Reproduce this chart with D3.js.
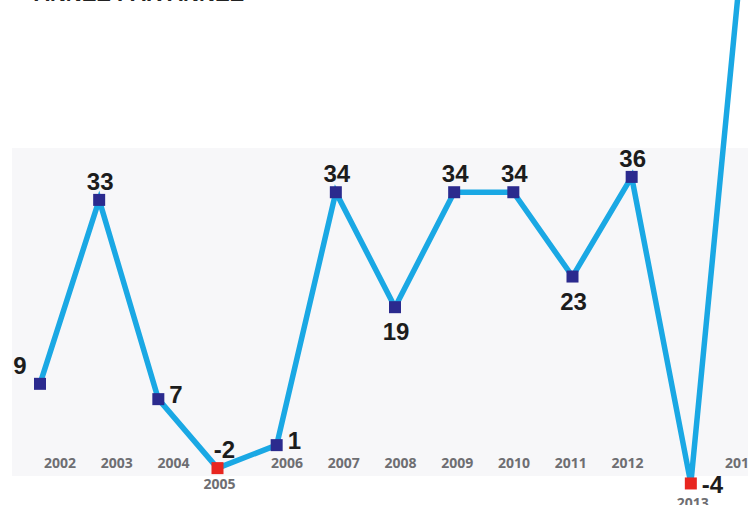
<!DOCTYPE html>
<html>
<head>
	<meta charset="UTF-8">
	<title>Courbe annuelle</title>
	<script src="https://d3js.org/d3.v7.min.js"></script>
	<style>
		body { margin: 0; background: #fff; }
		svg { display: block; }
	</style>
</head>
<body>
<div id="chart"></div>
<script>
	// donnees
	let years = [2002, 2003, 2004, 2005, 2006, 2007, 2008, 2009, 2010, 2011, 2012, 2013, 2014]
	let values = [9, 33, 7, -2, 1, 34, 19, 34, 34, 23, 36, -4, 76]
	let tickLabels = ["2002", "2003", "2004", "2005", "2006", "2007", "2008", "2009", "2010", "2011", "2012", "2013", "2014"]
	// ou placer l'etiquette de chaque valeur
	let labelPos = ["left", "above", "right", "aboveRight", "right", "above", "below", "above", "above", "below", "above", "right", "above"]

	var W = 748, H = 505
	var svg = d3.select("#chart").append("svg").attr("width", W).attr("height", H)

	var x = d3.scalePoint().domain(years).range([40, 750])
	var xLab = d3.scalePoint().domain(years).range([60, 741])
	var y = d3.scaleLinear().domain([0, 36]).range([452.8, 176.9])

	// fond gris clair du cadre
	svg.append("rect").attr("x", 12).attr("y", 148).attr("width", W - 12).attr("height", 328)
		.attr("fill", "#f7f7f9")

	// titre coupe en haut
	svg.append("text").attr("x", 34).attr("y", 1)
		.attr("style", "font-family:'Liberation Sans';font-weight:bold;font-size:22px;fill:#222")
		.text("ANNÉE PAR ANNÉE")

	var data = years.map((yr, i) => ({ year: yr, v: values[i], lab: tickLabels[i], pos: labelPos[i] }))

	// axe des annees (texte seulement)
	svg.selectAll(".yr").data(data).enter().append("text")
		.attr("class", "yr")
		.attr("x", d => d.v < 0 ? x(d.year) + 2 : xLab(d.year))
		.attr("y", d => d.year == 2005 ? 489 : (d.year == 2013 ? 508 : 468))
		.attr("text-anchor", "middle")
		.attr("style", "font-family:'Open Sans';font-weight:700;font-size:14px;fill:#6e6e72")
		.text(d => d.lab)

	var line = d3.line().x(d => x(d.year)).y(d => y(d.v))
	svg.append("path").datum(data).attr("d", line)
		.attr("fill", "none").attr("stroke", "#1aa8e4").attr("stroke-width", 5.5)
		.attr("stroke-linejoin", "miter")

	svg.selectAll(".pt").data(data).enter().append("rect")
		.attr("class", "pt")
		.attr("x", d => x(d.year) - 6).attr("y", d => y(d.v) - 6)
		.attr("width", 12).attr("height", 12)
		.attr("fill", d => d.v < 0 ? "#e8261f" : "#2b2a8e")

	svg.selectAll(".val").data(data).enter().append("text")
		.attr("class", "val")
		.attr("x", d => {
			let px = x(d.year)
			if (d.pos == "left") return px - 20
			if (d.pos == "right") return px + 11
			if (d.pos == "aboveRight") return px + 7
			return px + 1
		})
		.attr("y", d => {
			let py = y(d.v)
			if (d.pos == "above") return py - 10
			if (d.pos == "below") return py + 33
			if (d.pos == "left") return py - 10
			if (d.pos == "aboveRight") return py - 10
			return py + (d.v < 0 ? 10 : 4)
		})
		.attr("text-anchor", d => d.pos == "right" ? "start" : "middle")
		.attr("style", "font-family:'Liberation Sans';font-weight:bold;font-size:24px;fill:#1c1c1c")
		.text(d => d.v)
</script>
</body>
</html>
